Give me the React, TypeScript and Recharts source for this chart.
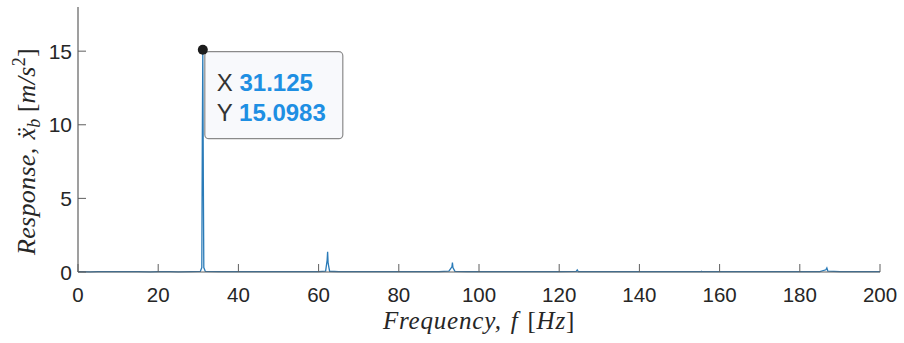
import { LineChart, Line, XAxis, YAxis, ReferenceDot } from 'recharts'

// spectrum samples (Hz, m/s^2)
const freq = [
    0, 3, 5, 8, 10, 12, 15, 18, 20, 23, 25, 28, 30.5, 30.875, 31.0, 31.125, 31.25, 31.375, 31.75,
    35, 40, 45, 50, 55, 58, 60, 61.75, 62.125, 62.25, 62.375, 62.75, 65, 70, 75, 80, 85, 90,
    92.5, 93.25, 93.375, 93.5, 94, 97, 100, 105, 110, 115, 120, 124.25, 124.5, 124.75, 130,
    135, 140, 145, 150, 155.375, 155.5, 155.625, 160, 165, 170, 175, 180, 185, 186.5, 186.75, 187, 190, 195, 200,
]
const response = [
    0.02, 0.01, 0.02, 0.02, 0.02, 0.02, 0.02, 0.01, 0.02, 0.02, 0.01, 0.02, 0.04, 0.3, 8.8, 15.0983, 6.5, 0.3, 0.04,
    0.02, 0.02, 0.02, 0.02, 0.02, 0.02, 0.03, 0.06, 0.8, 1.37, 0.6, 0.05, 0.02, 0.02, 0.02, 0.02, 0.02, 0.02,
    0.06, 0.35, 0.64, 0.3, 0.04, 0.02, 0.02, 0.02, 0.02, 0.02, 0.02, 0.04, 0.14, 0.03, 0.02,
    0.02, 0.02, 0.02, 0.02, 0.02, 0.05, 0.02, 0.02, 0.02, 0.02, 0.02, 0.02, 0.03, 0.15, 0.28, 0.06, 0.02, 0.02, 0.02,
]
const xTicks = [0, 20, 40, 60, 80, 100, 120, 140, 160, 180, 200]
const yTicks = [0, 5, 10, 15]
const peak = { x: 31.125, y: 15.0983, xLabel: '31.125', yLabel: '15.0983' }

const data = freq.map((f, i) => ({ f, a: response[i] }))

const AXIS = '#5f5f5f'
const TXT = '#262626'
const LINE = '#2a7bb8'
const SANS = '"Liberation Sans", Arial, sans-serif'
const SERIF = '"Liberation Serif", "Times New Roman", serif'

const BottomTick = (props: any) => {
    const { x, y, payload } = props
    return (
        <g>
            <line x1={x} y1={y} x2={x} y2={y - 8} stroke={AXIS} />
            <text x={x} y={y + 30} textAnchor="middle" fontSize={20.5} fill={TXT} fontFamily={SANS}>
                {payload.value}
            </text>
        </g>
    )
}

const TopTick = (props: any) => {
    const { x, y } = props
    return <line x1={x} y1={y} x2={x} y2={y + 8} stroke={AXIS} />
}

const LeftTick = (props: any) => {
    const { x, y, payload } = props
    return (
        <g>
            <line x1={x} y1={y} x2={x + 8} y2={y} stroke={AXIS} />
            <text x={x - 6} y={y + 7.5} textAnchor="end" fontSize={21} fill={TXT} fontFamily={SANS}>
                {payload.value}
            </text>
        </g>
    )
}

const RightTick = (props: any) => {
    const { x, y } = props
    return <line x1={x} y1={y} x2={x - 8} y2={y} stroke={AXIS} />
}

const XLabel = (props: any) => {
    const { x, width } = props.viewBox
    return (
        <text x={x + width / 2} y={329} textAnchor="middle" fontSize={25} fill={TXT} fontFamily={SERIF}
            letterSpacing={0.8}>
            <tspan fontStyle="italic">Frequency,</tspan>
            <tspan fontStyle="italic" dx={9}>f</tspan>
            <tspan dx={9}>[</tspan>
            <tspan fontStyle="italic">Hz</tspan>
            <tspan>]</tspan>
        </text>
    )
}

const YLabel = (props: any) => {
    const { y, height } = props.viewBox
    const cx = 35
    const cy = y + height / 2 + 12
    return (
        <text x={cx} y={cy} textAnchor="middle" fontSize={26} fill={TXT} fontFamily={SERIF}
            letterSpacing={0.3} transform={`rotate(-90, ${cx}, ${cy})`}>
            <tspan fontStyle="italic">Response,</tspan>
            <tspan fontStyle="italic" dx={8}>{'\u1E8D'}</tspan>
            <tspan fontStyle="italic" fontSize={18} dy={5}>b</tspan>
            <tspan dx={6} dy={-5}>[</tspan>
            <tspan fontStyle="italic">m/s</tspan>
            <tspan fontSize={18} dy={-10}>2</tspan>
            <tspan dy={10}>]</tspan>
        </text>
    )
}

const DataTip = (props: any) => {
    const { cx, cy } = props
    return (
        <g>
            <rect x={cx + 2} y={cy + 2} width={138} height={87} rx={4} fill="#f8f9fc" stroke="#8a8a8a" strokeWidth={1.2} />
            <circle cx={cx} cy={cy} r={5} fill="#1c1c1c" />
            <text x={cx + 14} y={cy + 41} fontSize={24} fontFamily={SANS}>
                <tspan fill="#333">X </tspan>
                <tspan fill="#1e8fe3" fontWeight="bold">{peak.xLabel}</tspan>
            </text>
            <text x={cx + 14} y={cy + 71} fontSize={24} fontFamily={SANS}>
                <tspan fill="#333">Y </tspan>
                <tspan fill="#1e8fe3" fontWeight="bold">{peak.yLabel}</tspan>
            </text>
        </g>
    )
}

export default function App() {
    return (
        <div style={{ position: 'fixed', left: 0, top: 0, background: '#fff' }}>
            <LineChart width={904} height={343} data={data} margin={{ top: 7, right: 24, bottom: 0, left: 0 }}>
                <XAxis dataKey="f" type="number" domain={[0, 200]} ticks={xTicks} height={71}
                    tickSize={0} tickMargin={0} tickLine={false} tick={<BottomTick />}
                    axisLine={{ stroke: AXIS, strokeWidth: 1.2 }} label={<XLabel />} interval={0} />
                <XAxis xAxisId="top" orientation="top" dataKey="f" type="number" domain={[0, 200]} ticks={xTicks}
                    height={0} tickSize={0} tickMargin={0} tickLine={false} tick={<TopTick />}
                    axisLine={{ stroke: AXIS, strokeWidth: 1.2 }} interval={0} />
                <YAxis type="number" domain={[0, 18]} ticks={yTicks} width={78}
                    tickSize={0} tickMargin={0} tickLine={false} tick={<LeftTick />}
                    axisLine={{ stroke: AXIS, strokeWidth: 1.2 }} label={<YLabel />} interval={0} />
                <YAxis yAxisId="right" orientation="right" type="number" domain={[0, 18]} ticks={yTicks} width={0}
                    tickSize={0} tickMargin={0} tickLine={false} tick={<RightTick />}
                    axisLine={{ stroke: AXIS, strokeWidth: 1.2 }} interval={0} />
                <Line dataKey="a" type="linear" stroke={LINE} strokeWidth={1.3} dot={false} isAnimationActive={false} />
                <ReferenceDot x={peak.x} y={peak.y} r={5} shape={<DataTip />} />
            </LineChart>
        </div>
    )
}
